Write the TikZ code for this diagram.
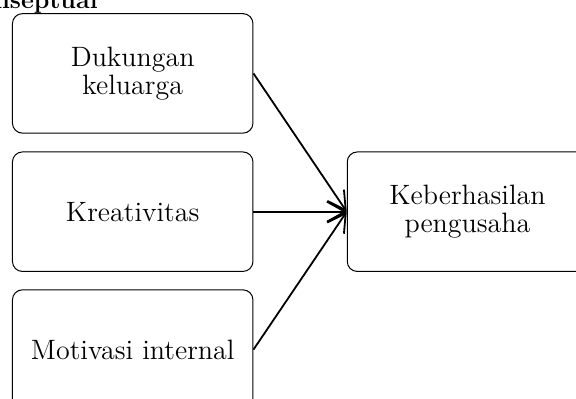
\documentclass[tikz,border=0pt]{standalone}
\usepackage{tikz}
\usetikzlibrary{arrows.meta}
\usetikzlibrary{positioning}
\tikzset{my_diagram/.style={x=0.5pt,y=-0.5pt,font=\fontsize{14}{14}\selectfont}}
\tikzset{my_box/.style={draw, rounded corners=5pt, line width=0.5pt, align=center, minimum width=120.25pt, minimum height=59.75pt}}
\tikzset{my_arrow/.style={-{Straight Barb[length=9pt,width=10pt]}, line width=0.9pt}}

\begin{document}
\begin{tikzpicture}[my_diagram]
    \useasboundingbox (0,0) rectangle (576,399);
    %\draw[help lines] (0,0) grid (576,399);
    \node[anchor=base east, inner sep=0pt, font=\fontsize{12.5}{12.5}\selectfont\bfseries] (judul) at (98,9) {Kerangka Konseptual};

    \node[my_box] (dukungan) at (132.7,73.4) {Dukungan\\keluarga};
    \node[my_box] (kreativitas) at (132.7,211.7) {Kreativitas};
    \node[my_box] (motivasi) at (132.7,349.6) {Motivasi internal};
    \node[my_box] (hasil) at (467.5,211.7) {Keberhasilan\\pengusaha};

    \draw[my_arrow] (dukungan.east) -- (hasil.west);
    \draw[my_arrow] (kreativitas.east) -- (hasil.west);
    \draw[my_arrow] (motivasi.east) -- (hasil.west);
\end{tikzpicture}
\end{document}
